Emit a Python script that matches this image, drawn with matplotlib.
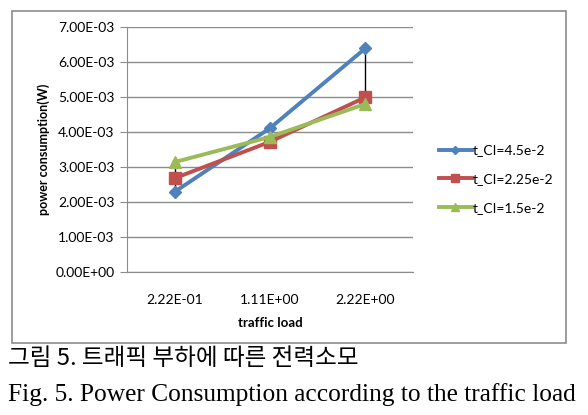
import matplotlib.pyplot as plt
import matplotlib.patches as patches
import numpy as np

# data
loads = ["2.22E-01", "1.11E+00", "2.22E+00"]
t_ci_45 = [2.29e-3, 4.11e-3, 6.39e-3]
t_ci_225 = [2.68e-3, 3.72e-3, 4.99e-3]
t_ci_15 = [3.14e-3, 3.86e-3, 4.80e-3]
series_names = ["t_CI=4.5e-2", "t_CI=2.25e-2", "t_CI=1.5e-2"]
y_ticks = [0, 1e-3, 2e-3, 3e-3, 4e-3, 5e-3, 6e-3, 7e-3]

W, H = 588, 415
fig = plt.figure(figsize=(W / 100, H / 100), dpi=100)

def px(x0, y0, x1, y1):
    # pixel box (top-left origin) -> figure fraction rect
    return [x0 / W, 1 - y1 / H, (x1 - x0) / W, (y1 - y0) / H]

# outer chart border
fig.patches.append(patches.Rectangle((12 / W, 1 - 343 / H), (566 - 12) / W, (343 - 11) / H,
                                     transform=fig.transFigure, fill=False,
                                     edgecolor="#8c8c8c", linewidth=1.2))

ax = fig.add_axes(px(127, 27, 413, 272))
x = np.arange(len(loads))

# high-low lines
all_vals = np.array([t_ci_45, t_ci_225, t_ci_15])
ax.vlines(x, all_vals.min(axis=0), all_vals.max(axis=0), color="black", linewidth=1, zorder=2)

ax.plot(x, t_ci_45, color="#4F81BD", marker="D", markersize=6, linewidth=2.8, label=series_names[0], zorder=3)
ax.plot(x, t_ci_225, color="#C0504D", marker="s", markersize=9, linewidth=2.8, label=series_names[1], zorder=3)
ax.plot(x, t_ci_15, color="#9BBB59", marker="^", markersize=8, linewidth=2.8, label=series_names[2], zorder=3)

ax.set_xlim(-0.5, 2.5)
ax.set_ylim(0, 7e-3)
ax.set_yticks(y_ticks)
ax.set_yticklabels([f"{v:.2E}" for v in y_ticks], fontsize=10, family="Lato")
ax.set_xticks(x)
ax.set_xticklabels(loads, fontsize=10, family="Lato")
ax.yaxis.grid(True, color="#8c8c8c", linewidth=1)
ax.set_axisbelow(True)
for s in ["top", "right"]:
    ax.spines[s].set_visible(False)
ax.spines["left"].set_color("#8c8c8c")
ax.spines["bottom"].set_color("#8c8c8c")
ax.tick_params(axis="y", length=5, color="#8c8c8c", pad=4)
ax.tick_params(axis="x", length=0, pad=16)

ax.set_ylabel("power consumption(W)", fontsize=9, fontweight="bold", family="Lato", labelpad=4)
ax.set_xlabel("traffic load", fontsize=9.5, fontweight="bold", family="Lato", labelpad=8)

ax.legend(loc="upper left", bbox_to_anchor=(426 / W, 1 - 132 / H), bbox_transform=fig.transFigure,
          frameon=False, prop={"family": "Lato", "size": 10}, handlelength=2.4,
          handletextpad=0.05, labelspacing=1.2, markerscale=0.7)

# captions
fig.text(8 / W, 1 - 358 / H, "그림 5. 트래픽 부하에 따른 전력소모", fontsize=17,
         family=["Noto Sans CJK KR", "DejaVu Sans"], va="center", ha="left")
fig.text(8 / W, 1 - 395 / H, "Fig. 5. Power Consumption according to the traffic load", fontsize=18.3,
         family="Liberation Serif", va="center", ha="left")

fig.savefig("out.png", dpi=100)
